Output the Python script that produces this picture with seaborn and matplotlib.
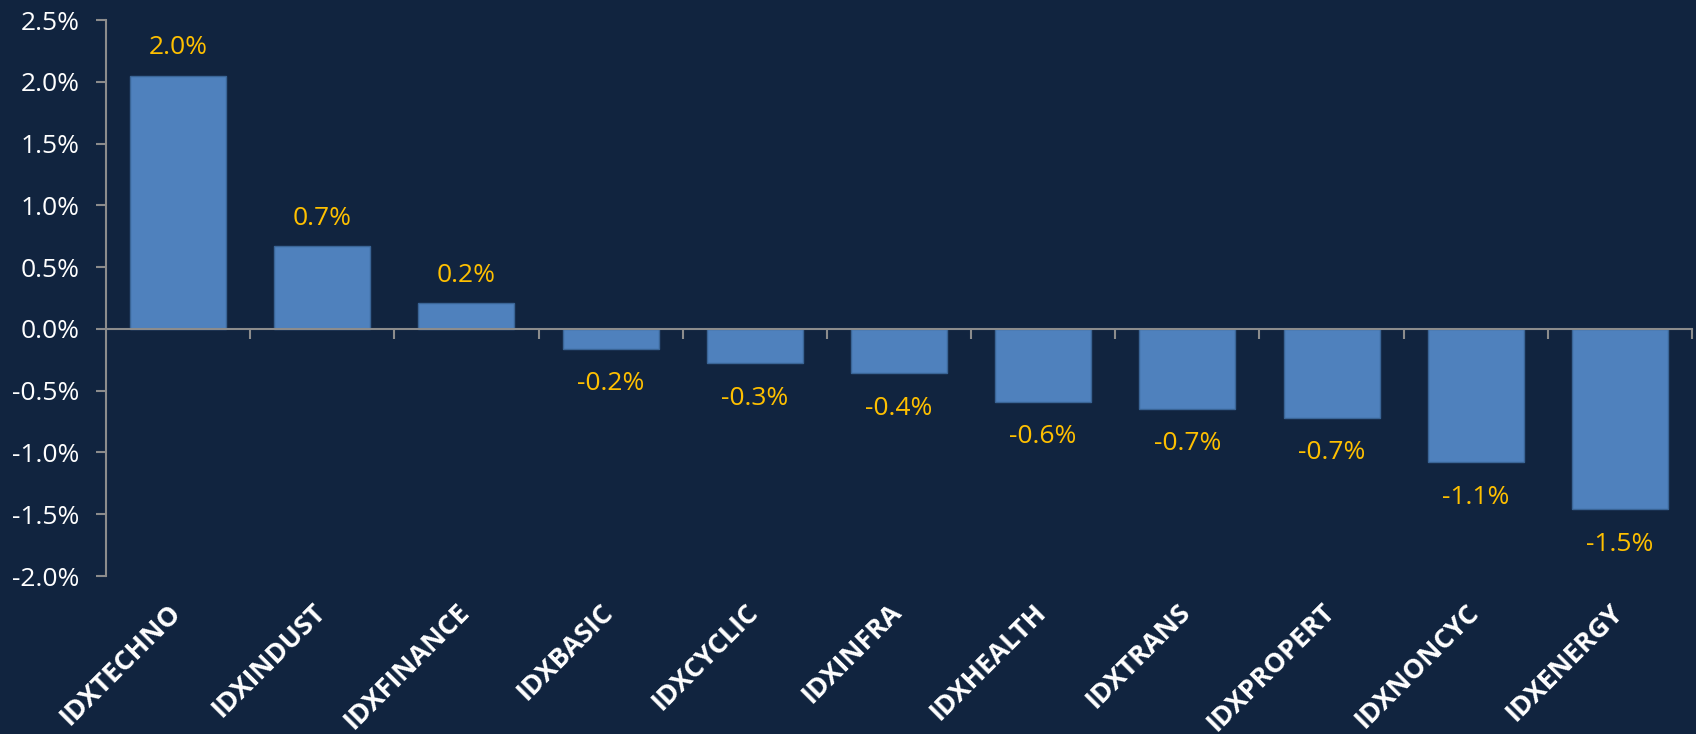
import numpy as np
import pandas as pd
import matplotlib
matplotlib.use('Agg')
import matplotlib.pyplot as plt
from matplotlib.ticker import PercentFormatter, MultipleLocator
from matplotlib.transforms import ScaledTranslation
import seaborn as sns

# 섹터 지수 등락률 (%)
sectors = ['IDXTECHNO', 'IDXINDUST', 'IDXFINANCE', 'IDXBASIC', 'IDXCYCLIC', 'IDXINFRA',
           'IDXHEALTH', 'IDXTRANS', 'IDXPROPERT', 'IDXNONCYC', 'IDXENERGY']
returns = [2.05, 0.67, 0.21, -0.16, -0.28, -0.36, -0.59, -0.65, -0.72, -1.08, -1.46]

BG = '#11243F'
BAR = '#4F81BD'
GOLD = '#FFC000'
GREY = '#8C8C8C'

sns.set_style('white')
plt.rcParams['font.family'] = ['Open Sans', 'DejaVu Sans']
plt.rcParams['axes.unicode_minus'] = False

df = pd.DataFrame({'sector': sectors, 'ret': returns})

fig = plt.figure(figsize=(16.96, 7.34), dpi=100, facecolor=BG)
ax = fig.add_axes([106 / 1696, 1 - 576 / 734, (1692 - 106) / 1696, (576 - 20) / 734])
ax.set_facecolor(BG)

sns.barplot(data=df, x='sector', y='ret', color=BAR, width=0.666, saturation=1,
            edgecolor='#3A6596', linewidth=1, ax=ax)

ax.set_xlim(-0.5, len(sectors) - 0.5)
ax.set_ylim(-2.0, 2.5)
ax.yaxis.set_major_locator(MultipleLocator(0.5))
ax.yaxis.set_major_formatter(PercentFormatter(xmax=100, decimals=1))

# 값 라벨
for i, v in enumerate(returns):
    off = 20 if v >= 0 else -25
    ax.annotate(f'{v:.1f}%', (i, v), xytext=(0, off), textcoords='offset points',
                ha='center', va='center', color=GOLD, fontsize=19)

# 축 스타일
for s in ['top', 'right']:
    ax.spines[s].set_visible(False)
ax.spines['bottom'].set_position(('data', 0))
for s in ['left', 'bottom']:
    ax.spines[s].set_color(GREY)
    ax.spines[s].set_linewidth(1.5)

ax.set_xticks(np.arange(len(sectors)) + 0.5, minor=True)
ax.tick_params(axis='x', which='minor', bottom=True, length=7, width=1.5, color=GREY, direction='out')
ax.tick_params(axis='x', which='major', bottom=True, length=0, pad=196, labelsize=19.5, labelcolor='white')
ax.tick_params(axis='y', left=True, length=7, width=1.5, color=GREY, pad=12, labelsize=19, labelcolor='white')
shift = ScaledTranslation(-0.10, 0.02, fig.dpi_scale_trans)
for lab in ax.get_xticklabels():
    lab.set_rotation(45)
    lab.set_ha('right')
    lab.set_rotation_mode('anchor')
    lab.set_fontweight('bold')
    lab.set_transform(lab.get_transform() + shift)

ax.set_xlabel('')
ax.set_ylabel('')

fig.savefig('out.png', dpi=100, facecolor=BG)
